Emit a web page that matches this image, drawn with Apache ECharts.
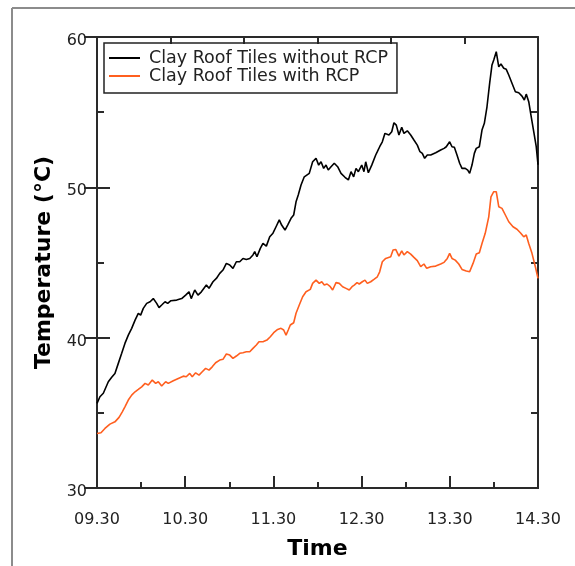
<!DOCTYPE html>
<html>
<head>
<meta charset="utf-8">
<script src="https://cdn.jsdelivr.net/npm/echarts@6/dist/echarts.min.js"></script>
<style>
  html, body { margin: 0; padding: 0; background: #fff; }
  #chart { width: 575px; height: 566px; }
</style>
</head>
<body>
<div id="chart"></div>
<script>
// Hour tick labels along the time axis (minutes after 09.30, every 60 min)
const timeTickLabels = ['09.30', '10.30', '11.30', '12.30', '13.30', '14.30'];

// Series names
const seriesNames = ['Clay Roof Tiles without RCP', 'Clay Roof Tiles with RCP'];

// Clay roof tiles without RCP: sample times (minutes after 09.30) and temperatures (°C)
const minutesWithout = [
  0, 2.0, 4.3, 7.7, 10.0, 12.2, 14.5, 16.8, 19.0, 21.3, 23.6, 25.9, 28.1, 29.7, 31.5, 33.8, 36.1, 38.3, 40.6, 42.2,
  44.0, 46.3, 48.1, 50.3, 54.2, 57.6, 60.3, 62.6, 64.1, 66.5, 68.7, 71.0, 74.4, 76.2, 78.9, 81.2, 83.5, 85.7, 88.0, 90.3,
  92.5, 94.8, 97.1, 99.3, 101.6, 103.9, 106.1, 107.3, 108.8, 111.1, 112.9, 115.2, 117.5, 119.7, 121.8, 124.0, 125.6, 127.9, 129.7, 132.0,
  133.8, 135.4, 136.9, 138.8, 141.0, 144.4, 146.7, 149.0, 150.8, 152.4, 154.2, 155.8, 157.3, 159.2, 161.4, 163.7, 166.0, 168.7, 171.0, 172.8,
  174.6, 176.2, 177.8, 180.1, 181.6, 182.8, 184.6, 186.9, 189.6, 190.7, 192.3, 194.1, 195.9, 198.6, 200.5, 202.0, 203.6, 205.4, 207.3, 208.8,
  211.1, 213.4, 215.6, 217.9, 219.7, 221.3, 222.9, 224.7, 227.0, 230.4, 233.8, 236.1, 237.6, 239.9, 241.5, 243.1, 244.9, 246.7, 248.3, 250.5,
  252.2, 253.5, 255.1, 256.7, 258.0, 260.1, 261.9, 263.5, 265.3, 267.1, 268.7, 269.9, 271.6, 273.3, 274.8, 276.7, 278.4, 280.1, 282.3, 284.6,
  286.9, 289.1, 290.7, 292.0, 293.7, 295.2, 297.1, 298.8, 300
];
const tempWithout = [
  35.63, 36.07, 36.30, 37.07, 37.36, 37.62, 38.29, 38.96, 39.62, 40.17, 40.62, 41.17, 41.62, 41.50, 41.95, 42.28, 42.39, 42.60, 42.28, 42.00,
  42.17, 42.39, 42.28, 42.46, 42.50, 42.60, 42.83, 43.05, 42.60, 43.17, 42.83, 43.05, 43.50, 43.28, 43.72, 43.94, 44.28, 44.50, 44.94, 44.83,
  44.61, 45.05, 45.05, 45.27, 45.20, 45.27, 45.50, 45.72, 45.38, 45.94, 46.27, 46.09, 46.71, 46.95, 47.38, 47.83, 47.49, 47.16, 47.49, 47.94,
  48.16, 49.04, 49.49, 50.15, 50.70, 50.93, 51.70, 51.93, 51.48, 51.70, 51.26, 51.48, 51.15, 51.37, 51.60, 51.37, 50.93, 50.67, 50.49, 51.04,
  50.70, 51.26, 51.04, 51.48, 51.04, 51.70, 50.97, 51.48, 52.15, 52.37, 52.70, 53.03, 53.59, 53.48, 53.70, 54.30, 54.14, 53.48, 53.99, 53.59,
  53.76, 53.48, 53.15, 52.81, 52.37, 52.26, 51.93, 52.15, 52.15, 52.30, 52.48, 52.59, 52.70, 53.03, 52.70, 52.66, 52.15, 51.60, 51.26, 51.26,
  51.15, 50.93, 51.48, 52.26, 52.59, 52.70, 53.81, 54.26, 55.36, 56.92, 58.14, 58.47, 59.02, 58.02, 58.20, 57.92, 57.85, 57.47, 56.92, 56.36,
  56.29, 56.07, 55.81, 56.20, 55.70, 54.81, 53.70, 52.70, 51.50
];

// Clay roof tiles with RCP: sample times (minutes after 09.30) and temperatures (°C)
const minutesWith = [
  0, 2.7, 5.4, 8.8, 12.2, 15.0, 17.2, 19.0, 21.3, 23.6, 25.9, 28.1, 30.4, 32.7, 34.9, 37.6, 39.9, 41.7, 44.0, 46.7,
  48.5, 51.9, 55.3, 58.7, 60.7, 63.1, 64.8, 67.1, 69.4, 71.6, 73.9, 76.2, 78.4, 80.7, 83.5, 85.7, 88.0, 90.3, 92.5, 94.8,
  97.1, 99.3, 101.6, 103.9, 106.1, 108.4, 110.2, 112.9, 115.6, 117.9, 120.2, 122.9, 125.2, 127.0, 128.6, 130.1, 131.5, 133.8, 135.4, 137.6,
  139.9, 142.2, 145.1, 146.7, 149.0, 151.2, 152.9, 154.6, 156.5, 158.7, 160.3, 162.6, 164.8, 167.1, 169.4, 171.6, 173.5, 175.0, 176.9, 178.4,
  180.5, 182.3, 183.9, 186.2, 188.4, 190.7, 192.3, 194.1, 196.4, 199.8, 201.4, 203.2, 205.4, 207.3, 208.8, 211.1, 213.4, 215.6, 217.9, 220.2,
  222.4, 224.3, 227.0, 230.4, 233.8, 236.1, 238.3, 239.9, 241.5, 243.7, 246.1, 248.3, 251.2, 253.5, 255.8, 258.0, 260.1, 261.9, 264.1, 266.5,
  268.0, 269.9, 271.6, 273.3, 275.5, 277.8, 280.1, 283.0, 285.7, 288.0, 290.3, 292.0, 293.7, 295.9, 298.2, 300
];
const tempWith = [
  33.63, 33.67, 33.96, 34.25, 34.40, 34.70, 35.07, 35.40, 35.85, 36.18, 36.40, 36.56, 36.73, 36.96, 36.85, 37.18, 36.96, 37.07, 36.78, 37.07,
  36.96, 37.13, 37.29, 37.44, 37.40, 37.62, 37.40, 37.66, 37.51, 37.73, 37.96, 37.84, 38.06, 38.33, 38.51, 38.56, 38.91, 38.84, 38.62, 38.78,
  38.96, 39.00, 39.06, 39.06, 39.29, 39.51, 39.73, 39.73, 39.84, 40.06, 40.33, 40.55, 40.62, 40.51, 40.17, 40.51, 40.84, 40.99, 41.62, 42.17,
  42.72, 43.05, 43.21, 43.61, 43.83, 43.61, 43.72, 43.50, 43.57, 43.39, 43.17, 43.66, 43.61, 43.39, 43.28, 43.17, 43.39, 43.50, 43.66, 43.57,
  43.72, 43.83, 43.61, 43.72, 43.88, 44.05, 44.38, 45.05, 45.27, 45.38, 45.83, 45.87, 45.43, 45.78, 45.50, 45.72, 45.56, 45.34, 45.12, 44.72,
  44.90, 44.61, 44.72, 44.76, 44.90, 45.01, 45.27, 45.61, 45.27, 45.16, 44.90, 44.54, 44.43, 44.38, 44.94, 45.56, 45.65, 46.27, 46.94, 48.04,
  49.37, 49.71, 49.71, 48.71, 48.60, 48.16, 47.71, 47.38, 47.21, 46.98, 46.71, 46.83, 46.27, 45.61, 44.72, 43.94
];

const pairs = (xs, ys) => xs.map((x, i) => [x, ys[i]]);

const axisColor = '#2a2a2a';
const textColor = '#222';
const baseFont = 'DejaVu Sans';

// A tick-only axis (no labels) used for the shorter tick marks and the framing sides
function tickAxis(position, min, max, interval, length) {
  return {
    type: 'value',
    position,
    min, max, interval,
    axisLine: { lineStyle: { color: axisColor, width: 2 } },
    axisTick: { inside: true, length, lineStyle: { color: axisColor, width: 2 } },
    axisLabel: { show: false },
    splitLine: { show: false }
  };
}

const chart = echarts.init(document.getElementById('chart'), null, { renderer: 'canvas' });

chart.setOption({
  animation: false,
  backgroundColor: '#fff',
  grid: { left: 97, top: 37, right: 37, bottom: 78, containLabel: false },
  legend: {
    left: 104,
    top: 43,
    orient: 'vertical',
    padding: [6, 9, 8, 5],
    itemGap: 0,
    itemWidth: 31,
    itemHeight: 2,
    icon: 'rect',
    borderColor: '#222',
    borderWidth: 1.5,
    borderRadius: 0,
    textStyle: { fontFamily: baseFont, fontSize: 17.5, color: textColor, lineHeight: 16, padding: [0, 0, 0, 4] },
    data: seriesNames
  },
  xAxis: [
    {
      type: 'value',
      position: 'bottom',
      min: 0, max: 300, interval: 60,
      name: 'Time',
      nameLocation: 'middle',
      nameGap: 50,
      nameTextStyle: { fontFamily: baseFont, fontWeight: 'bold', fontSize: 22, color: '#000' },
      axisLine: { lineStyle: { color: axisColor, width: 2 } },
      axisTick: { inside: true, length: 12, lineStyle: { color: axisColor, width: 2 } },
      splitLine: { show: false },
      axisLabel: {
        margin: 24,
        fontFamily: baseFont, fontSize: 16, color: textColor,
        formatter: v => timeTickLabels[Math.round(v / 60)] ?? ''
      }
    },
    tickAxis('bottom', 0, 300, 30, 6),
    tickAxis('top', 0, 300, 50, 7)
  ],
  yAxis: [
    {
      type: 'value',
      position: 'left',
      min: 30, max: 60, interval: 10,
      name: 'Temperature (°C)',
      nameLocation: 'middle',
      nameGap: 42,
      nameTextStyle: { fontFamily: baseFont, fontWeight: 'bold', fontSize: 22, color: '#000' },
      axisLine: { lineStyle: { color: axisColor, width: 2 } },
      axisTick: { inside: true, length: 13, lineStyle: { color: axisColor, width: 2 } },
      splitLine: { show: false },
      axisLabel: {
        margin: 10, fontFamily: baseFont, fontSize: 16, color: textColor,
        formatter: v => '{v|' + v + '}',
        rich: { v: { fontFamily: baseFont, fontSize: 16, color: textColor, padding: [8, 0, 0, 0] } }
      }
    },
    tickAxis('left', 30, 60, 5, 7),
    tickAxis('right', 30, 60, 10, 13),
    tickAxis('right', 30, 60, 5, 7)
  ],
  series: [
    {
      name: seriesNames[0],
      type: 'line',
      xAxisIndex: 0, yAxisIndex: 0,
      showSymbol: false,
      color: '#000',
      lineStyle: { color: '#000', width: 1.6 },
      data: pairs(minutesWithout, tempWithout)
    },
    {
      name: seriesNames[1],
      type: 'line',
      xAxisIndex: 0, yAxisIndex: 0,
      showSymbol: false,
      color: '#ff5f1f',
      lineStyle: { color: '#ff5f1f', width: 1.6 },
      data: pairs(minutesWith, tempWith)
    }
  ],
  graphic: [
    // outer frame edges
    { type: 'line', shape: { x1: 12, y1: 8, x2: 575, y2: 8 }, style: { stroke: '#8c8c8c', lineWidth: 2 } },
    { type: 'line', shape: { x1: 12, y1: 8, x2: 12, y2: 566 }, style: { stroke: '#8c8c8c', lineWidth: 2 } }
  ]
});
</script>
</body>
</html>
